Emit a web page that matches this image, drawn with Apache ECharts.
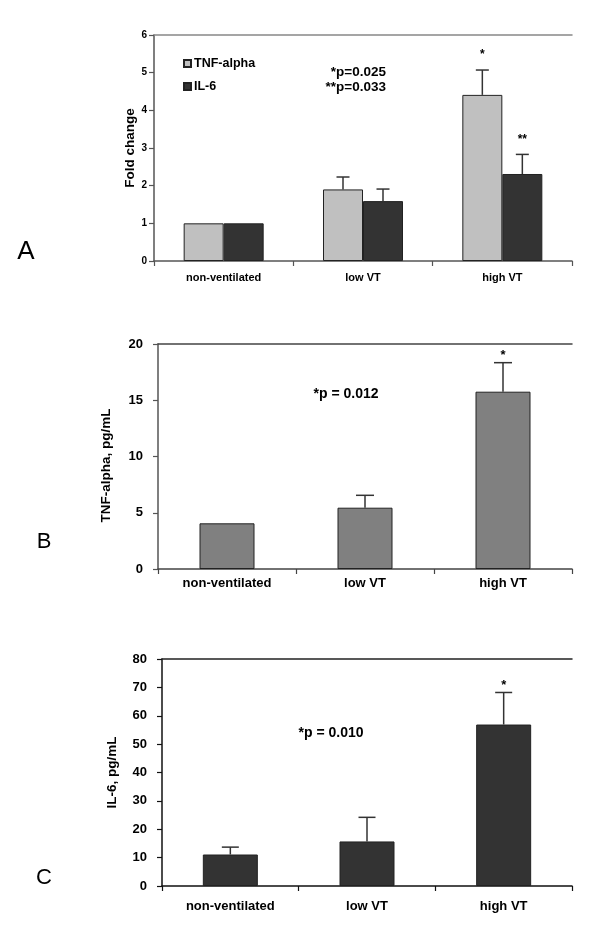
<!DOCTYPE html>
<html>
<head>
<meta charset="utf-8">
<script src="https://cdn.jsdelivr.net/npm/echarts@6/dist/echarts.min.js"></script>
<style>
html,body{margin:0;padding:0;background:#fff;}
#chart{width:600px;height:939px;}
</style>
</head>
<body>
<div id="chart"></div>
<script>
// ---- data ----
const categories = ['non-ventilated', 'low VT', 'high VT'];

const foldTNF = [1.0, 1.90, 4.41];
const foldTNFErr = [0, 0.33, 0.66];
const foldTNFStars = ['', '', '*'];

const foldIL6 = [1.0, 1.59, 2.31];
const foldIL6Err = [0, 0.32, 0.52];
const foldIL6Stars = ['', '', '**'];

const tnfPg = [4.06, 5.45, 15.76];
const tnfPgErr = [0, 1.10, 2.58];
const tnfPgStars = ['', '', '*'];

const il6Pg = [11.1, 15.7, 56.9];
const il6PgErr = [2.6, 8.5, 11.3];
const il6PgStars = ['', '', '*'];

const axisA = { min: 0, max: 6, interval: 1 };
const axisB = { min: 0, max: 20, interval: 5 };
const axisC = { min: 0, max: 80, interval: 10 };

const panelLetters = ['A', 'B', 'C'];
const pTextA = ['*p=0.025', '**p=0.033'];
const pTextB = '*p = 0.012';
const pTextC = '*p = 0.010';

// ---- chart ----
const FONT = '"Liberation Sans", Arial, sans-serif';
const chart = echarts.init(document.getElementById('chart'), null, { renderer: 'canvas' });

function errorSeries(name, xi, yi, vals, errs, stars, offset, capW, color, starGap, starSize) {
  return {
    type: 'custom',
    name: name,
    xAxisIndex: xi,
    yAxisIndex: yi,
    z: 5,
    silent: true,
    data: vals.map((v, i) => [i, v, errs[i]]),
    encode: { x: 0, y: 1 },
    renderItem: function (params, api) {
      const i = api.value(0), v = api.value(1), e = api.value(2);
      const base = api.coord([i, v]);
      const top = api.coord([i, v + e]);
      const x = base[0] + offset;
      const children = [];
      if (e > 0) {
        children.push({ type: 'line', shape: { x1: x, y1: base[1], x2: x, y2: top[1] },
          style: { stroke: color, lineWidth: 1.5 } });
        children.push({ type: 'line', shape: { x1: x - capW / 2, y1: top[1], x2: x + capW / 2, y2: top[1] },
          style: { stroke: color, lineWidth: 1.5 } });
      }
      const s = stars[params.dataIndex];
      if (s) {
        children.push({ type: 'text', x: x, y: top[1] - starGap,
          style: { text: s, font: 'bold ' + starSize + 'px ' + FONT, fill: '#000', align: 'center', verticalAlign: 'middle' } });
      }
      return { type: 'group', children: children };
    }
  };
}

function yAxisCfg(gi, ax, name, fs, nameFs, labelMargin, nameGap, lineColor, namePadding) {
  return {
    type: 'value', gridIndex: gi, min: ax.min, max: ax.max, interval: ax.interval,
    name: name, nameLocation: 'middle', nameGap: nameGap, nameMoveOverlap: false,
    nameTextStyle: { fontFamily: FONT, fontWeight: 'bold', fontSize: nameFs, color: '#000', padding: namePadding || 0 },
    axisLine: { show: true, lineStyle: { color: lineColor, width: 1.5 } },
    axisTick: { show: true, length: 5, lineStyle: { color: lineColor, width: 1.2 } },
    axisLabel: { fontFamily: FONT, fontWeight: 'bold', fontSize: fs, color: '#000', margin: labelMargin },
    splitLine: { show: false }
  };
}
function xAxisCfg(gi, fs, margin, lineColor) {
  return {
    type: 'category', gridIndex: gi, data: categories, position: 'bottom',
    axisLine: { show: true, lineStyle: { color: lineColor, width: 1.5 } },
    axisTick: { show: true, length: 5, lineStyle: { color: lineColor, width: 1.2 } },
    axisLabel: { fontFamily: FONT, fontWeight: 'bold', fontSize: fs, color: '#000', margin: margin }
  };
}
function topAxisCfg(gi, lineColor) {
  return {
    type: 'category', gridIndex: gi, data: categories, position: 'top',
    axisLine: { show: true, lineStyle: { color: lineColor, width: 1.5 } },
    axisTick: { show: false }, axisLabel: { show: false }
  };
}

const barBorder = { borderColor: '#222', borderWidth: 1 };

const option = {
  animation: false,
  backgroundColor: '#fff',
  textStyle: { fontFamily: FONT },
  grid: [
    { left: 154, top: 35, right: 28, bottom: 678 },
    { left: 158, top: 344, right: 28, bottom: 370 },
    { left: 162, top: 659, right: 28, bottom: 53 }
  ],
  xAxis: [
    xAxisCfg(0, 11, 11, '#555'),
    xAxisCfg(1, 13, 8, '#444'),
    xAxisCfg(2, 13, 14, '#111'),
    topAxisCfg(0, '#888'),
    topAxisCfg(1, '#444'),
    topAxisCfg(2, '#222')
  ],
  yAxis: [
    yAxisCfg(0, axisA, 'Fold change', 10, 13.5, 7, 17, '#555'),
    yAxisCfg(1, axisB, 'TNF-alpha, pg/mL', 13, 13.5, 15, 45, '#555', [0, 18, 0, 0]),
    yAxisCfg(2, axisC, 'IL-6, pg/mL', 13, 13.5, 15, 43, '#111')
  ],
  legend: {
    data: ['TNF-alpha', 'IL-6'],
    orient: 'vertical', left: 178, top: 52,
    itemWidth: 7, itemHeight: 7, itemGap: 10,
    icon: 'rect',
    textStyle: { fontFamily: FONT, fontWeight: 'bold', fontSize: 12.5, color: '#000', padding: [0, 0, 0, -2] }
  },
  series: [
    { type: 'bar', name: 'TNF-alpha', xAxisIndex: 0, yAxisIndex: 0, data: foldTNF, barWidth: 40, barGap: '0%',
      itemStyle: Object.assign({ color: '#c0c0c0' }, barBorder) },
    { type: 'bar', name: 'IL-6', xAxisIndex: 0, yAxisIndex: 0, data: foldIL6, barWidth: 40, barGap: '0%',
      itemStyle: Object.assign({ color: '#333333' }, barBorder) },
    { type: 'bar', name: 'TNF-alpha pg', xAxisIndex: 1, yAxisIndex: 1, data: tnfPg, barWidth: 55,
      itemStyle: Object.assign({ color: '#808080' }, barBorder) },
    { type: 'bar', name: 'IL-6 pg', xAxisIndex: 2, yAxisIndex: 2, data: il6Pg, barWidth: 55,
      itemStyle: Object.assign({ color: '#333333' }, barBorder) },
    errorSeries('TNF-alpha err', 0, 0, foldTNF, foldTNFErr, foldTNFStars, -20, 13, '#333', 15, 12),
    errorSeries('IL-6 err', 0, 0, foldIL6, foldIL6Err, foldIL6Stars, 20, 13, '#333', 15, 12),
    errorSeries('TNF pg err', 1, 1, tnfPg, tnfPgErr, tnfPgStars, 0, 18, '#333', 7, 13),
    errorSeries('IL-6 pg err', 2, 2, il6Pg, il6PgErr, il6PgStars, 0, 17, '#333', 7, 13)
  ],
  graphic: [
    { type: 'text', x: 26, y: 252, style: { text: panelLetters[0], font: '26px ' + FONT, fill: '#000', align: 'center', verticalAlign: 'middle' } },
    { type: 'text', x: 44, y: 542, style: { text: panelLetters[1], font: '22px ' + FONT, fill: '#000', align: 'center', verticalAlign: 'middle' } },
    { type: 'text', x: 44, y: 878, style: { text: panelLetters[2], font: '22px ' + FONT, fill: '#000', align: 'center', verticalAlign: 'middle' } },
    { type: 'text', x: 386, y: 72, style: { text: pTextA[0], font: 'bold 13.5px ' + FONT, fill: '#000', align: 'right', verticalAlign: 'middle' } },
    { type: 'text', x: 386, y: 87, style: { text: pTextA[1], font: 'bold 13.5px ' + FONT, fill: '#000', align: 'right', verticalAlign: 'middle' } },
    { type: 'text', x: 346, y: 394, style: { text: pTextB, font: 'bold 14px ' + FONT, fill: '#000', align: 'center', verticalAlign: 'middle' } },
    { type: 'text', x: 331, y: 733, style: { text: pTextC, font: 'bold 14px ' + FONT, fill: '#000', align: 'center', verticalAlign: 'middle' } }
  ]
};
chart.setOption(option);
</script>
</body>
</html>
